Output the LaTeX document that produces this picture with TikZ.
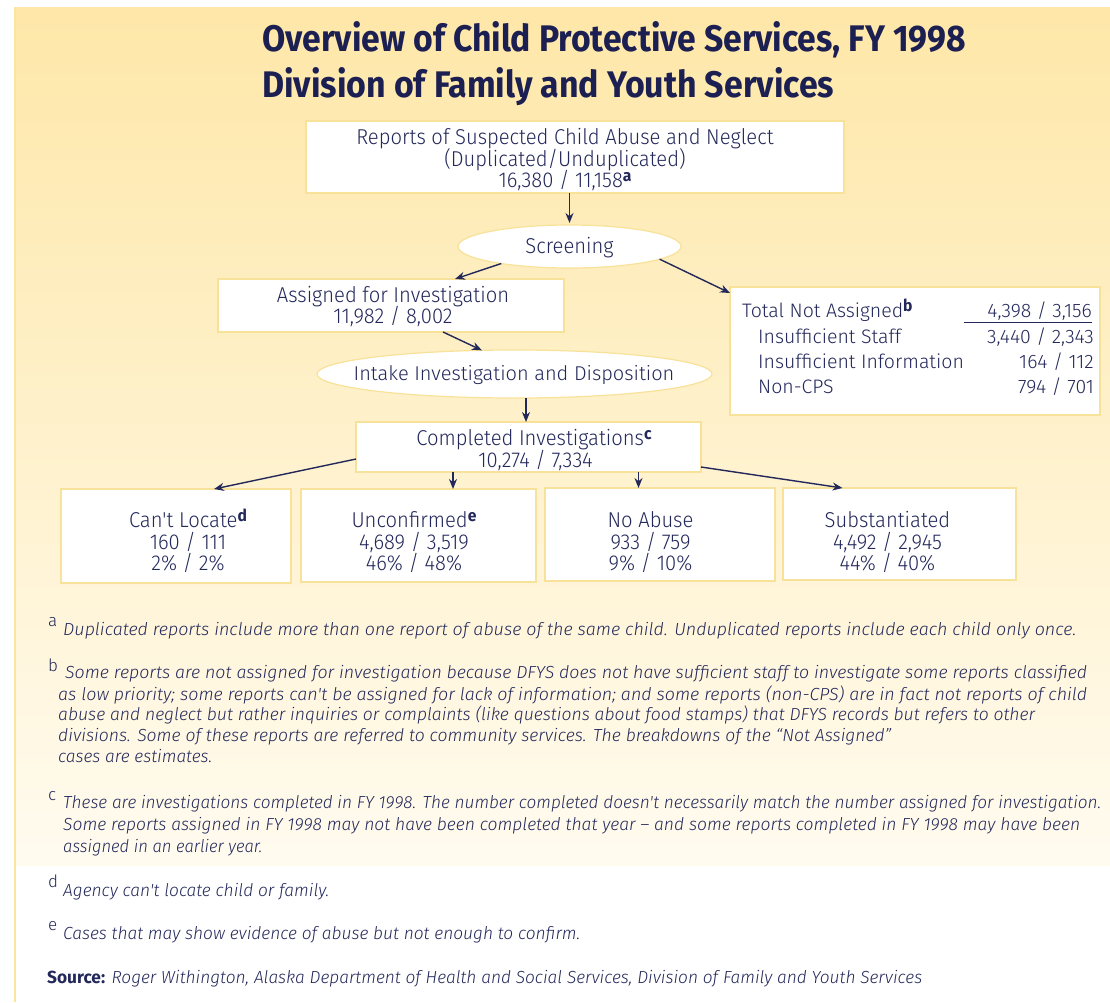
\documentclass[tikz,border=0pt]{standalone}
\usepackage{graphicx}
\usepackage{fontspec}
\usetikzlibrary{shapes.geometric,arrows.meta,calc}
\setmainfont{Fira Sans}
\newfontfamily\condlightfam{Fira Sans Light}[FakeStretch=0.94]
\newfontfamily\lightfam{Fira Sans Light}[ItalicFont={Fira Sans Light Italic}]
\newfontfamily\boldfam{Fira Sans}
\newfontfamily\condboldfam{Fira Sans}[FakeStretch=0.95]
\newcommand{\fitw}[2]{\resizebox{#1}{\height}{#2}}
\newcommand{\bsup}[1]{\raisebox{6pt}{\condboldfam\bfseries\fontsize{16.5}{16.5}\selectfont #1}}
\definecolor{navy}{HTML}{23285A}
\definecolor{titlec}{HTML}{1C1F52}
\definecolor{edge}{HTML}{F8E29A}
\definecolor{bgtop}{HTML}{FEE7A8}
\definecolor{bgbot}{HTML}{FFFBEF}
\definecolor{panelline}{HTML}{FBE49C}
\tikzset{
  boxst/.style={draw=edge, line width=1.2pt, fill=white, inner sep=0pt, outer sep=0pt},
  ovalst/.style={ellipse, draw=edge, line width=1.2pt, fill=white, inner sep=0pt, outer sep=0pt},
  arr/.style={draw=navy, line width=1.4pt, -{Stealth[length=10pt,width=8pt]}},
  btxt/.style={inner sep=0pt, text=navy, anchor=base, font=\condlightfam\fontsize{21.5}{24}\selectfont},
  wtxt/.style={inner sep=0pt, text=navy, font=\lightfam\fontsize{19.5}{22}\selectfont},
  ntxt/.style={inner sep=0pt, text=navy, anchor=base west, font=\lightfam\itshape\fontsize{17.5}{20}\selectfont},
  nsup/.style={inner sep=0pt, text=navy, anchor=base west, font=\lightfam\fontsize{17}{17}\selectfont},
  ttl/.style={inner sep=0pt, text=titlec, anchor=base west, font=\boldfam\bfseries\fontsize{37}{40}\selectfont},
}
\begin{document}
\begin{tikzpicture}[x=1pt,y=-1pt]
\useasboundingbox (0,0) rectangle (1110,1002);
\fill[white] (0,0) rectangle (1110,1002);
\shade[top color=bgtop, bottom color=bgbot] (15,7) rectangle (1110,865);
\draw[panelline, line width=1.5pt] (15,7) -- (15,1002);

% title
\node[ttl] (t1) at (262,51) {\fitw{704pt}{Overview of Child Protective Services, FY 1998}};
\node[ttl] (t2) at (262,97) {\fitw{572pt}{Division of Family and Youth Services}};

% boxes
\node[boxst, minimum width=538pt, minimum height=72pt] (rep) at (575,157) {};
\node[ovalst, minimum width=223pt, minimum height=43pt] (scr) at (569.5,246.5) {};
\node[boxst, minimum width=346pt, minimum height=53pt] (asg) at (391,305.5) {};
\node[boxst, minimum width=370pt, minimum height=128pt] (tna) at (915,351) {};
\node[ovalst, minimum width=395pt, minimum height=48pt] (int) at (514.5,374) {};
\node[boxst, minimum width=345pt, minimum height=50pt] (cmp) at (528.5,447) {};
\node[boxst, minimum width=230pt, minimum height=94pt] (clo) at (176,536) {};
\node[boxst, minimum width=235pt, minimum height=93pt] (unc) at (418.5,535.5) {};
\node[boxst, minimum width=230pt, minimum height=93pt] (nab) at (660,534.5) {};
\node[boxst, minimum width=233pt, minimum height=92pt] (sub) at (899.5,534) {};

% connectors
\draw[arr, shorten >=2pt] (rep.south -| scr.north) -- (scr.north);
\draw[arr] (scr.194) -- ([xshift=64pt]asg.north);
\draw[arr] (scr.-8) -- ([yshift=-6pt]tna.north west);
\draw[arr] ([xshift=52pt]asg.south) -- (int.144);
\coordinate (cN) at ([xshift=-2.5pt]cmp.north);
\draw[arr] (int.south -| cN) -- (cN);
\draw[arr] ([yshift=-12pt]cmp.west) -- ([xshift=38pt]clo.north);
\coordinate (uN) at ([xshift=34.5pt]unc.north);
\draw[arr] (cmp.south -| uN) -- (uN);
\coordinate (nN) at ([xshift=-21.5pt]nab.north);
\draw[arr] (cmp.south -| nN) -- (nN);
\draw[arr] ([yshift=-20pt]cmp.east) -- ([xshift=-57pt]sub.north);

% box texts
\node[btxt] (rep1) at (565,144) {Reports of Suspected Child Abuse and Neglect};
\node[btxt] (rep2) at (565,166) {(Duplicated/Unduplicated)};
\node[btxt] (rep3) at (565,187) {16,380 / 11,158\bsup{a}};
\node[btxt] (scr1) at (569.5,253) {Screening};
\node[btxt] (asg1) at (393,302) {Assigned for Investigation};
\node[btxt] (asg2) at (393,323) {11,982 / 8,002};
\node[wtxt, anchor=base, font=\lightfam\fontsize{20}{22}\selectfont] (int1) at (514,380) {Intake Investigation and Disposition};
\node[btxt] (cmp1) at (534,445) {Completed Investigations\bsup{c}};
\node[btxt] (cmp2) at (535.5,467) {10,274 / 7,334};
\node[btxt] (clo1) at (188,527) {Can't Locate\bsup{d}};
\node[btxt] (clo2) at (188,549) {160 / 111};
\node[btxt] (clo3) at (188,570) {2\% / 2\%};
\node[btxt] (unc1) at (414,527) {Unconfirmed\bsup{e}};
\node[btxt] (unc2) at (414,549) {4,689 / 3,519};
\node[btxt] (unc3) at (414,570) {46\% / 48\%};
\node[btxt] (nab1) at (650.5,527) {No Abuse};
\node[btxt] (nab2) at (650.5,549) {933 / 759};
\node[btxt] (nab3) at (650.5,570) {9\% / 10\%};
\node[btxt] (sub1) at (887.5,527) {Substantiated};
\node[btxt] (sub2) at (887.5,549) {4,492 / 2,945};
\node[btxt] (sub3) at (887.5,570) {44\% / 40\%};

% total not assigned
\node[wtxt, anchor=base west] (tn1) at (742,317) {Total Not Assigned\bsup{b}};
\node[wtxt, anchor=base east] (tn1v) at (1092,317) {4,398 / 3,156};
\draw[navy, line width=1.1pt] (964,322.5) -- (1092,322.5);
\node[wtxt, anchor=base west] (tn2) at (758,343) {Insufficient Staff};
\node[wtxt, anchor=base east] (tn2v) at (1094,343) {3,440 / 2,343};
\node[wtxt, anchor=base west] (tn3) at (758,368) {Insufficient Information};
\node[wtxt, anchor=base east] (tn3v) at (1094,368) {164 / 112};
\node[wtxt, anchor=base west] (tn4) at (758,393) {Non-CPS};
\node[wtxt, anchor=base east] (tn4v) at (1094,393) {794 / 701};

% footnotes
\node[nsup] (sa) at (48,626) {a};
\node[ntxt] (fa) at (63,635) {\fitw{1013pt}{Duplicated reports include more than one report of abuse of the same child. Unduplicated reports include each child only once.}};
\node[nsup] (sb) at (48,671) {b};
\node[ntxt] (fb1) at (65,678) {\fitw{1022pt}{Some reports are not assigned for investigation because DFYS does not have sufficient staff to investigate some reports classified}};
\node[ntxt] (fb2) at (58,700) {\fitw{1029pt}{as low priority; some reports can't be assigned for lack of information; and some reports (non-CPS) are in fact not reports of child}};
\node[ntxt] (fb3) at (58,720) {\fitw{977pt}{abuse and neglect but rather inquiries or complaints (like questions about food stamps) that DFYS records but refers to other}};
\node[ntxt] (fb4) at (58,741) {\fitw{833pt}{divisions. Some of these reports are referred to community services. The breakdowns of the “Not Assigned”}};
\node[ntxt] (fb5) at (58,762) {\fitw{154pt}{cases are estimates.}};
\node[nsup] (sc) at (48,800) {c};
\node[ntxt] (fc1) at (63,808) {\fitw{1038pt}{These are investigations completed in FY 1998. The number completed doesn't necessarily match the number assigned for investigation.}};
\node[ntxt] (fc2) at (63,830) {\fitw{1017pt}{Some reports assigned in FY 1998 may not have been completed that year – and some reports completed in FY 1998 may have been}};
\node[ntxt] (fc3) at (63,852) {\fitw{199pt}{assigned in an earlier year.}};
\node[nsup] (sd) at (48,887) {d};
\node[ntxt] (fd) at (63,896) {\fitw{266pt}{Agency can't locate child or family.}};
\node[nsup] (se) at (48,930) {e};
\node[ntxt] (fe) at (63,939) {\fitw{517pt}{Cases that may show evidence of abuse but not enough to confirm.}};
\node[ntxt] (src) at (47,983) {\fitw{875pt}{{\boldfam\upshape\bfseries Source:} Roger Withington, Alaska Department of Health and Social Services, Division of Family and Youth Services}};
\end{tikzpicture}
\end{document}
